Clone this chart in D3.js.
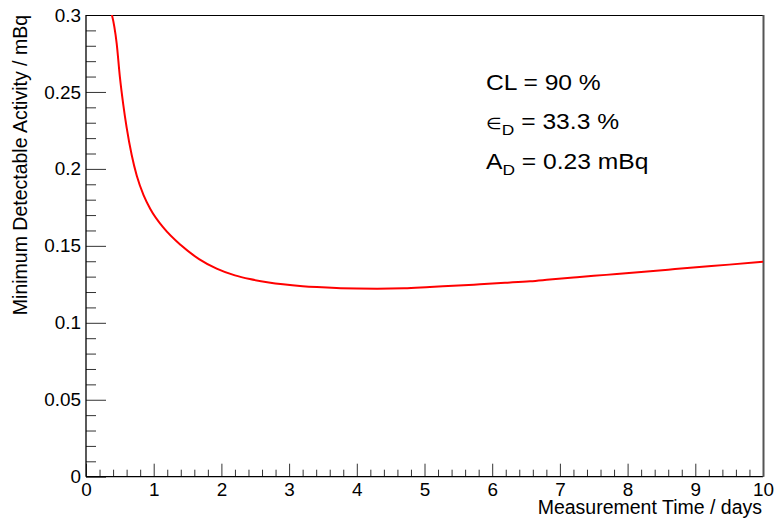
<!DOCTYPE html>
<html>
<head>
<meta charset="utf-8">
<script src="https://cdn.jsdelivr.net/npm/d3@7"></script>
<style>
  html, body { margin: 0; padding: 0; background: #fff; }
  svg { display: block; font-family: "Liberation Sans", Arial, Helvetica, sans-serif; }
</style>
</head>
<body>
<svg id="chart" width="775" height="521"></svg>
<script>
// Measurement time (days) and the resulting minimum detectable activity (mBq)
const timeDays = [0.30, 0.453, 0.50, 0.55, 0.60, 0.675, 0.75, 0.85, 0.95, 1.15, 1.40, 1.67, 1.93,
  2.2, 2.42, 2.7, 2.91, 3.2, 3.41, 3.7, 4.0, 4.3, 4.7, 5.08, 5.5, 5.82, 6.2, 6.56, 6.85,
  7.2, 7.5, 7.84, 8.2, 8.6, 8.97, 9.5, 10.0];
const mdaValues = [0.310, 0.2816, 0.2600, 0.2420, 0.2270, 0.2090, 0.1955, 0.1830, 0.1740, 0.1615, 0.1505, 0.1414, 0.1352,
  0.1308, 0.1284, 0.1262, 0.1250, 0.1238, 0.1232, 0.1226, 0.1223, 0.1222, 0.1224, 0.1233, 0.1242, 0.1250, 0.1260, 0.1270, 0.1281,
  0.1294, 0.1305, 0.1317, 0.1330, 0.1345, 0.1359, 0.1378, 0.1397];

const xTicks = [0, 1, 2, 3, 4, 5, 6, 7, 8, 9, 10];
const xTickLabels = ["0", "1", "2", "3", "4", "5", "6", "7", "8", "9", "10"];
const yTicks = [0, 0.05, 0.1, 0.15, 0.2, 0.25, 0.3];
const yTickLabels = ["0", "0.05", "0.1", "0.15", "0.2", "0.25", "0.3"];

const xTitle = "Measurement Time / days";
const yTitle = "Minimum Detectable Activity / mBq";

const svg = d3.select("#chart");
const frame = { left: 86, right: 763, top: 15, bottom: 476.7 };

const x = d3.scaleLinear().domain([0, 10]).range([frame.left, frame.right]);
const y = d3.scaleLinear().domain([0, 0.3]).range([frame.bottom, frame.top]);

const tickFont = 18.9;
const titleFont = 19.5;
const tickColor = "#333";
const fontStack = '"Liberation Sans", Arial, sans-serif';

// Clip region for the curve
svg.append("defs").append("clipPath").attr("id", "frameClip")
  .append("rect")
  .attr("x", frame.left).attr("y", frame.top)
  .attr("width", frame.right - frame.left).attr("height", frame.bottom - frame.top);

// Minor ticks
const xMinor = d3.range(0, 10.001, 0.2).filter(v => Math.abs(v - Math.round(v)) > 1e-6);
const yMinor = d3.range(0, 0.3001, 0.01).filter(v => Math.abs(v / 0.05 - Math.round(v / 0.05)) > 1e-6);

svg.append("g")
  .attr("transform", `translate(0,${frame.bottom})`)
  .call(d3.axisBottom(x).tickValues(xMinor).tickSize(-7).tickFormat(""))
  .call(g => g.select(".domain").remove())
  .call(g => g.selectAll("line").attr("stroke", tickColor));

svg.append("g")
  .attr("transform", `translate(${frame.left},0)`)
  .call(d3.axisLeft(y).tickValues(yMinor).tickSize(-10).tickFormat(""))
  .call(g => g.select(".domain").remove())
  .call(g => g.selectAll("line").attr("stroke", tickColor));

// Major ticks with labels
const xAxis = svg.append("g")
  .attr("transform", `translate(0,${frame.bottom})`)
  .call(d3.axisBottom(x).tickValues(xTicks).tickSize(-13).tickSizeOuter(0).tickPadding(6.3)
    .tickFormat((d, i) => xTickLabels[i]));
xAxis.select(".domain").remove();
xAxis.selectAll("line").attr("stroke", tickColor);
xAxis.selectAll("text").attr("font-size", tickFont).attr("fill", "#000")
  .style("font-family", fontStack);

const yAxis = svg.append("g")
  .attr("transform", `translate(${frame.left},0)`)
  .call(d3.axisLeft(y).tickValues(yTicks).tickSize(-20).tickSizeOuter(0).tickPadding(5)
    .tickFormat((d, i) => yTickLabels[i]));
yAxis.select(".domain").remove();
yAxis.selectAll("line").attr("stroke", tickColor);
yAxis.selectAll("text").attr("font-size", tickFont).attr("fill", "#000")
  .style("font-family", fontStack);

// Frame
svg.append("line").attr("x1", frame.left).attr("x2", frame.right)
  .attr("y1", frame.top + 0.5).attr("y2", frame.top + 0.5).attr("stroke", "#000");
svg.append("line").attr("x1", frame.left).attr("x2", frame.right)
  .attr("y1", frame.bottom).attr("y2", frame.bottom).attr("stroke", "#000").attr("stroke-width", 1.3);
svg.append("line").attr("x1", frame.left).attr("x2", frame.left)
  .attr("y1", frame.top).attr("y2", frame.bottom).attr("stroke", "#000").attr("stroke-width", 1.3);
svg.append("line").attr("x1", frame.right + 0.5).attr("x2", frame.right + 0.5)
  .attr("y1", frame.top).attr("y2", frame.bottom).attr("stroke", "#555").attr("stroke-width", 2);

// MDA curve
const points = timeDays.map((t, i) => [t, mdaValues[i]]);
svg.append("path")
  .datum(points)
  .attr("clip-path", "url(#frameClip)")
  .attr("fill", "none")
  .attr("stroke", "#ff0000")
  .attr("stroke-width", 2)
  .attr("d", d3.line().x(d => x(d[0])).y(d => y(d[1])).curve(d3.curveMonotoneX));

// Axis titles
svg.append("text")
  .attr("x", frame.right - 1).attr("y", 513.5)
  .attr("text-anchor", "end").attr("font-size", titleFont)
  .text(xTitle);

svg.append("text")
  .attr("transform", `translate(26.5,${frame.top}) rotate(-90)`)
  .attr("text-anchor", "end").attr("font-size", titleFont)
  .text(yTitle);

// Annotation block (slightly widened lettering)
const noteX = 486;
const note = svg.append("g").attr("font-size", 22);
function noteLine(baseline) {
  return note.append("text")
    .attr("transform", `translate(${noteX},${baseline}) scale(1.12,1)`)
    .attr("x", 0).attr("y", 0);
}
noteLine(90).text("CL = 90 %");

const l2 = noteLine(128.5);
l2.append("tspan").attr("font-size", 16).text("\u2208");
l2.append("tspan").attr("font-size", 15.5).attr("dy", 6).text("D");
l2.append("tspan").attr("dy", -6).text(" = 33.3 %");

const l3 = noteLine(168.5);
l3.append("tspan").text("A");
l3.append("tspan").attr("font-size", 15.5).attr("dy", 6).text("D");
l3.append("tspan").attr("dy", -6).text(" = 0.23 mBq");
</script>
</body>
</html>
